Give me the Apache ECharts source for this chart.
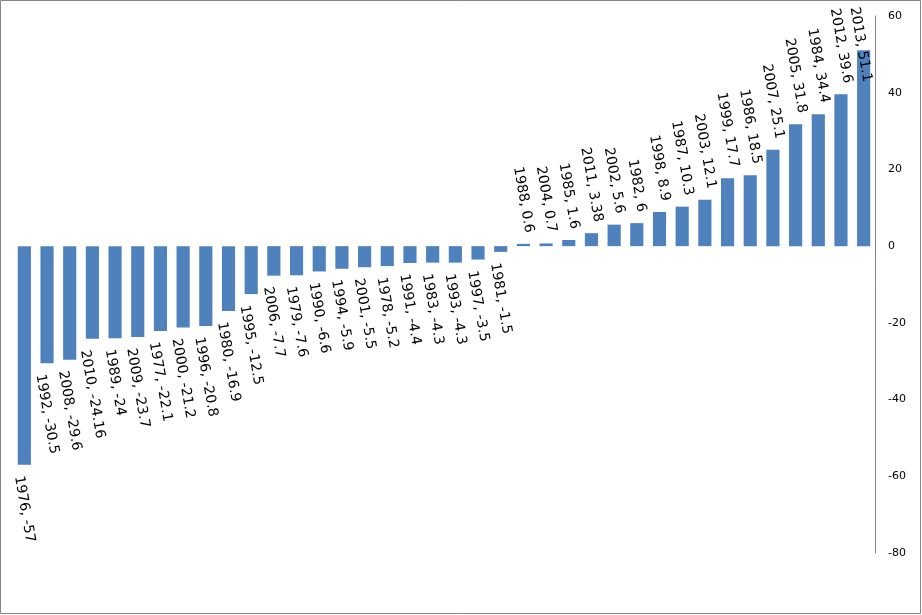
<!DOCTYPE html>
<html>
<head>
<meta charset="utf-8">
<script src="https://cdn.jsdelivr.net/npm/echarts@6/dist/echarts.min.js"></script>
<style>
html,body{margin:0;padding:0;background:#fff;}
#c{width:922px;height:615px;}
</style>
</head>
<body>
<div id="c"></div>
<script>
const years = ['1976','1992','2008','2010','1989','2009','1977','2000','1996','1980','1995','2006','1979','1990','1994','2001','1978','1991','1983','1993','1997','1981','1988','2004','1985','2011','2002','1982','1998','1987','2003','1999','1986','2007','2005','1984','2012','2013'];
const values = [-57,-30.5,-29.6,-24.16,-24,-23.7,-22.1,-21.2,-20.8,-16.9,-12.5,-7.7,-7.6,-6.6,-5.9,-5.5,-5.2,-4.4,-4.3,-4.3,-3.5,-1.5,0.6,0.7,1.6,3.38,5.6,6,8.9,10.3,12.1,17.7,18.5,25.1,31.8,34.4,39.6,51.1];
const yMin = -80, yMax = 60, yStep = 20;

const labelFontSize = 14;
const labelFont = 'DejaVu Sans';
const rotDeg = 80;
const gap = 10, minTop = 6, maxRight = 874;

const chart = echarts.init(document.getElementById('c'));
const texts = years.map((y, i) => y + ', ' + values[i]);

const base = {
  animation: false,
  graphic: [{
    type: 'rect',
    shape: { x: 0.5, y: 0.5, width: 920, height: 613 },
    style: { fill: 'none', stroke: '#868686', lineWidth: 1 },
    silent: true
  }],
  grid: { left: 13, right: 47, top: 16, bottom: 62 },
  xAxis: {
    type: 'category',
    data: years,
    axisLine: { show: false },
    axisTick: { show: false },
    axisLabel: { show: false },
    splitLine: { show: false }
  },
  yAxis: {
    type: 'value',
    position: 'right',
    min: yMin, max: yMax, interval: yStep,
    axisLine: { show: true, lineStyle: { color: '#868686', width: 1 } },
    axisTick: { show: false },
    splitLine: { show: false },
    axisLabel: { color: '#000', fontFamily: 'DejaVu Sans', fontSize: 11, margin: 13, align: 'left',
                 formatter: v => String(v) }
  },
  series: [{
    type: 'bar',
    data: values,
    barCategoryGap: '42%',
    itemStyle: { color: '#4F81BD' },
    label: {
      show: true,
      rotate: -rotDeg,
      align: 'center',
      verticalAlign: 'middle',
      color: '#000',
      fontFamily: labelFont,
      fontSize: labelFontSize,
      formatter: p => texts[p.dataIndex]
    }
  }]
};
chart.setOption(base);

// place rotated labels like the source: box centred on the bar, just beyond its end
const ctx = document.createElement('canvas').getContext('2d');
ctx.font = labelFontSize + 'px "' + labelFont + '"';
const a = rotDeg * Math.PI / 180;
const sa = Math.sin(a), ca = Math.cos(a);
const data = values.map((v, i) => {
  const L = ctx.measureText(texts[i]).width;
  const h = labelFontSize;
  const H = L * sa + h * ca;
  const W = L * ca + h * sa;
  const endY = chart.convertToPixel({ yAxisIndex: 0 }, v);
  const cx = chart.convertToPixel({ xAxisIndex: 0 }, i);
  let D = gap + H / 2;
  if (v >= 0) {
    const boxTop = endY - D - H / 2;
    if (boxTop < minTop) D -= (minTop - boxTop);
  }
  let dx = 0;
  if (cx + W / 2 > maxRight) dx = maxRight - (cx + W / 2);
  const lab = { position: v >= 0 ? 'top' : 'bottom', distance: D };
  if (dx) lab.offset = [dx * ca, -dx * sa];
  return { value: v, label: lab };
});
chart.setOption({ series: [{ data: data }] });
</script>
</body>
</html>
